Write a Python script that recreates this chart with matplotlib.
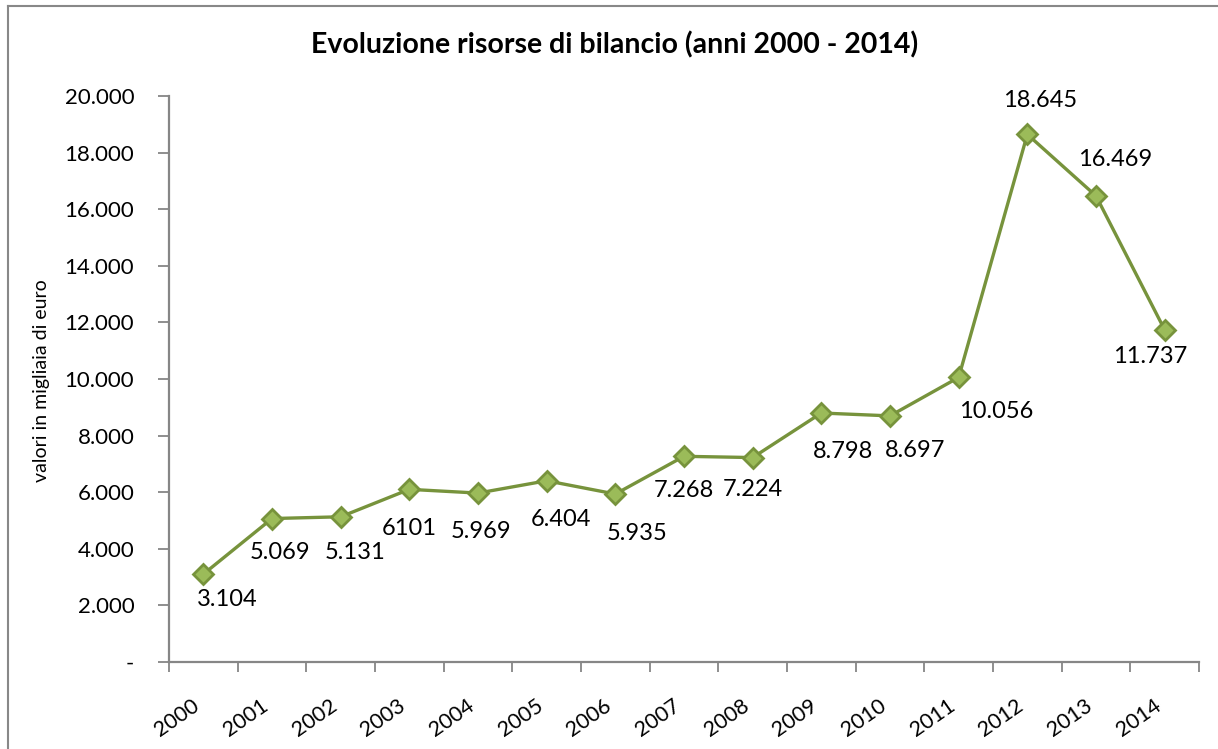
import matplotlib
matplotlib.use("Agg")
import matplotlib.pyplot as plt
from matplotlib.ticker import FuncFormatter, FixedLocator
from matplotlib.lines import Line2D

plt.rcParams['font.family'] = ['Lato', 'DejaVu Sans']

# ---- data ----
years = ['2000', '2001', '2002', '2003', '2004', '2005', '2006', '2007',
         '2008', '2009', '2010', '2011', '2012', '2013', '2014']
values = [3104, 5069, 5131, 6101, 5969, 6404, 5935, 7268,
          7224, 8798, 8697, 10056, 18645, 16469, 11737]
value_labels = ['3.104', '5.069', '5.131', '6101', '5.969', '6.404', '5.935',
                '7.268', '7.224', '8.798', '8.697', '10.056', '18.645',
                '16.469', '11.737']
title = 'Evoluzione risorse di bilancio (anni 2000 - 2014)'
ylabel = 'valori in migliaia di euro'

# ---- style: label offsets in pixels (dx right, dy down) ----
label_offsets = [(24, 25), (8, 34), (14, 36), (0, 39), (3, 38), (14, 39),
                 (22, 39), (0, 34), (0, 32), (22, 38), (25, 35), (38, 34),
                 (13, -34), (19, -36), (-15, 27)]

W, H = 1218, 749
fig = plt.figure(figsize=(W / 100, H / 100), dpi=100)
ax = fig.add_axes([169 / W, 1 - 662 / H, (1199 - 169) / W, (662 - 96) / H])

line_c = '#77933C'
fill_c = '#9BBB59'
xs = [i + 0.5 for i in range(len(years))]
ax.plot(xs, values, color=line_c, lw=2.4, marker='D', ms=10,
        markerfacecolor=fill_c, markeredgecolor=line_c, markeredgewidth=2,
        zorder=3)

for x, v, lab, (dx, dy) in zip(xs, values, value_labels, label_offsets):
    ax.annotate(lab, (x, v), xytext=(dx, -dy), textcoords='offset pixels',
                ha='center', va='center', fontsize=17, color='#000000')

ax.set_xlim(0, len(years))
ax.set_ylim(0, 20000)
ax.set_yticks(range(0, 20001, 2000))
ax.yaxis.set_major_formatter(FuncFormatter(
    lambda v, p: '-' if v == 0 else f'{int(v):,}'.replace(',', '.')))

ax.xaxis.set_major_locator(FixedLocator(range(len(years) + 1)))
ax.set_xticklabels([])
ax.xaxis.set_minor_locator(FixedLocator(xs))
ax.set_xticklabels(years, minor=True, rotation=35, ha='right', va='top',
                   fontsize=15.5)
ax.tick_params(axis='x', which='minor', length=0, pad=24)
ax.tick_params(axis='x', which='major', length=7, width=1.3, color='#868686',
               direction='out')
ax.tick_params(axis='y', length=8, width=1.3, color='#868686',
               direction='out', pad=17, labelsize=16)

for s in ['top', 'right']:
    ax.spines[s].set_visible(False)
for s in ['left', 'bottom']:
    ax.spines[s].set_color('#868686')
    ax.spines[s].set_linewidth(1.6)

fig.text(615 / W, 1 - 45 / H, title, ha='center', va='center',
         fontsize=20.5, fontweight='bold')
fig.text(42 / W, 1 - 381 / H, ylabel, ha='center', va='center',
         rotation=90, fontsize=14)

# outer chart border (left and top visible)
fig.add_artist(Line2D([8 / W, 8 / W], [0, 1 - 6 / H], transform=fig.transFigure,
                      color='#888888', lw=1.5))
fig.add_artist(Line2D([8 / W, 1], [1 - 6 / H, 1 - 6 / H], transform=fig.transFigure,
                      color='#888888', lw=1.5))

fig.savefig('out.png', dpi=100)
